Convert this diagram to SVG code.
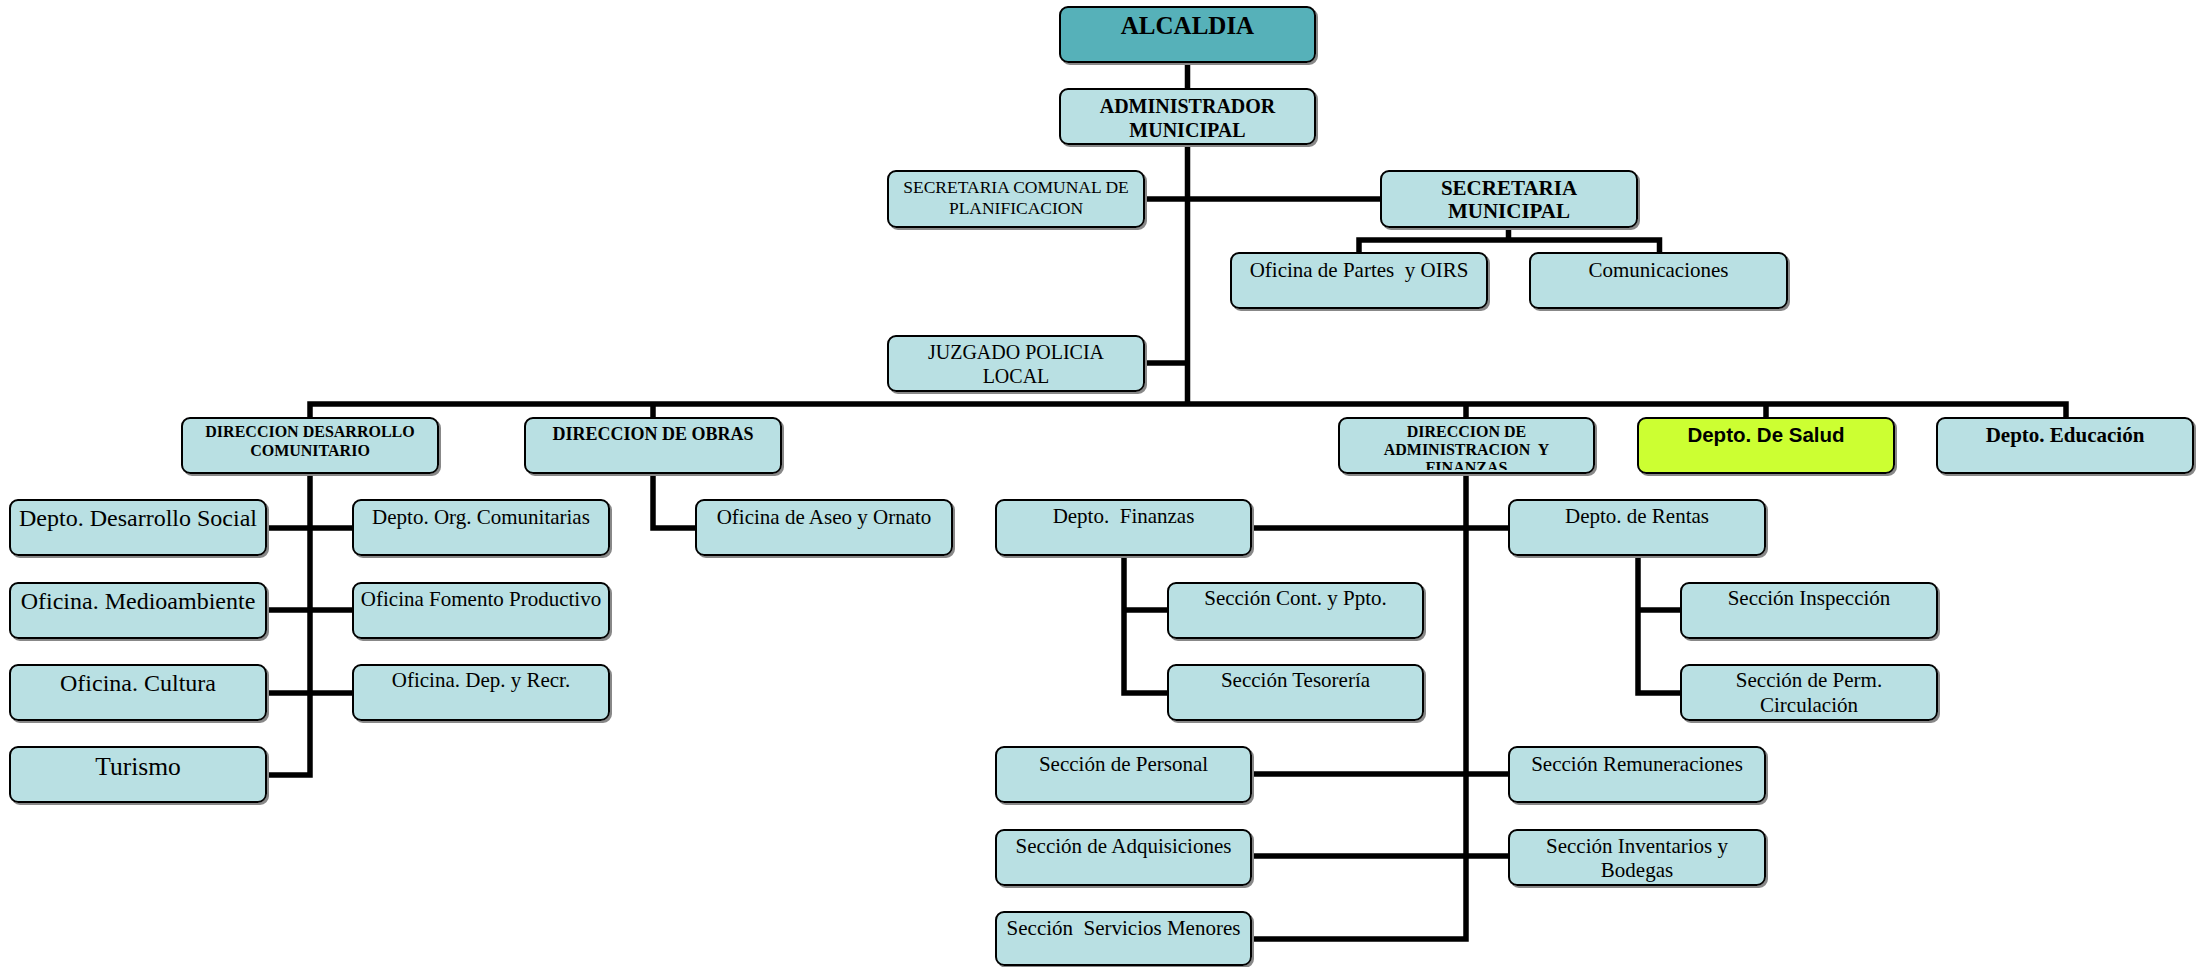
<svg xmlns="http://www.w3.org/2000/svg" width="2203" height="967" viewBox="0 0 2203 967">
<style>
.box{fill:#B9E0E3;stroke:#000;stroke-width:2;filter:url(#sh)}
.top{fill:#56B1B9}
.salud{fill:#CCFF33}
.c{fill:none;stroke:#000;stroke-width:5.5;stroke-linejoin:miter}
text{font-family:"Liberation Serif","Times New Roman",serif;fill:#000;text-anchor:middle}
.b{font-weight:bold}
.s21{font-size:21px}
.s24{font-size:24px}
.sans{font-family:"Liberation Sans",Arial,sans-serif}
</style>
<defs>
<filter id="sh" x="-5%" y="-5%" width="115%" height="130%">
<feOffset in="SourceAlpha" dx="2" dy="2" result="o"/>
<feFlood flood-color="#888"/>
<feComposite in2="o" operator="in" result="s"/>
<feMerge><feMergeNode in="s"/><feMergeNode in="SourceGraphic"/></feMerge>
</filter>
<clipPath id="cdaf"><rect x="1340" y="419" width="253" height="51"/></clipPath>
</defs>
<rect width="2203" height="967" fill="#fff"/>
<g id="connectors">
<path class="c" d="M1187.5 62 V404"/>
<path class="c" d="M1144 199 H1381"/>
<path class="c" d="M1508.5 227 V240 M1359 253 V240 H1659.5 V253"/>
<path class="c" d="M1144 363 H1187.5"/>
<path class="c" d="M310 418 V404 H2066 V418 M653 404 V418 M1466 404 V418 M1766 404 V418"/>
<path class="c" d="M310 473 V775 H266 M266 528 H353 M266 610 H353 M266 693 H353"/>
<path class="c" d="M653 473 V528 H696"/>
<path class="c" d="M1466 473 V939 H1251 M1251 528 H1509 M1251 774 H1509 M1251 856 H1509"/>
<path class="c" d="M1124 555 V693 H1168 M1124 610 H1168"/>
<path class="c" d="M1638 555 V693 H1681 M1638 610 H1681"/>
</g>
<g id="alcaldia"><rect class="box top" x="1060" y="7" width="255" height="55" rx="8"/><text class="b" x="1187.5" y="34" font-size="25">ALCALDIA</text></g>
<g id="administrador"><rect class="box" x="1060" y="89" width="255" height="55" rx="8"/><text class="b" x="1187.5" y="113" font-size="20">ADMINISTRADOR</text><text class="b" x="1187.5" y="137" font-size="20">MUNICIPAL</text></g>
<g id="secplan"><rect class="box" x="888" y="171" width="256" height="56" rx="8"/><text x="1016" y="193" font-size="17.5">SECRETARIA COMUNAL DE</text><text x="1016" y="214" font-size="17.5">PLANIFICACION</text></g>
<g id="secmun"><rect class="box" x="1381" y="171" width="256" height="56" rx="8"/><text class="b" x="1509" y="195" font-size="21">SECRETARIA</text><text class="b" x="1509" y="218" font-size="21">MUNICIPAL</text></g>
<g id="partes"><rect class="box" x="1231" y="253" width="256" height="55" rx="8"/><text class="s21" x="1359" y="277" xml:space="preserve">Oficina de Partes  y OIRS</text></g>
<g id="comunicaciones"><rect class="box" x="1530" y="253" width="257" height="55" rx="8"/><text class="s21" x="1658.5" y="277">Comunicaciones</text></g>
<g id="juzgado"><rect class="box" x="888" y="336" width="256" height="55" rx="8"/><text x="1016" y="359" font-size="20">JUZGADO POLICIA</text><text x="1016" y="383" font-size="20">LOCAL</text></g>
<g id="ddc"><rect class="box" x="182" y="418" width="256" height="55" rx="8"/><text class="b" x="310" y="437" font-size="16">DIRECCION DESARROLLO</text><text class="b" x="310" y="456" font-size="16">COMUNITARIO</text></g>
<g id="obras"><rect class="box" x="525" y="418" width="256" height="55" rx="8"/><text class="b" x="653" y="440" font-size="18">DIRECCION DE OBRAS</text></g>
<g id="daf"><rect class="box" x="1339" y="418" width="255" height="55" rx="8"/><g clip-path="url(#cdaf)"><text class="b" x="1466.5" y="437" font-size="16">DIRECCION DE</text><text class="b" x="1466.5" y="455" font-size="16" xml:space="preserve">ADMINISTRACION  Y</text><text class="b" x="1466.5" y="473" font-size="16">FINANZAS</text></g></g>
<g id="salud"><rect class="box salud" x="1638" y="418" width="256" height="55" rx="8"/><text class="b sans" x="1766" y="442" font-size="20.5">Depto. De Salud</text></g>
<g id="educacion"><rect class="box" x="1937" y="418" width="256" height="55" rx="8"/><text class="b s21" x="2065" y="442">Depto. Educación</text></g>
<g id="desarrollo-social"><rect class="box" x="10" y="500" width="256" height="55" rx="8"/><text class="s24" x="138" y="526">Depto. Desarrollo Social</text></g>
<g id="medioambiente"><rect class="box" x="10" y="583" width="256" height="55" rx="8"/><text class="s24" x="138" y="609">Oficina. Medioambiente</text></g>
<g id="cultura"><rect class="box" x="10" y="665" width="256" height="55" rx="8"/><text class="s24" x="138" y="691">Oficina. Cultura</text></g>
<g id="turismo"><rect class="box" x="10" y="747" width="256" height="55" rx="8"/><text x="138" y="775" font-size="25.5">Turismo</text></g>
<g id="org-comunitarias"><rect class="box" x="353" y="500" width="256" height="55" rx="8"/><text class="s21" x="481" y="524">Depto. Org. Comunitarias</text></g>
<g id="fomento"><rect class="box" x="353" y="583" width="256" height="55" rx="8"/><text class="s21" x="481" y="606">Oficina Fomento Productivo</text></g>
<g id="dep-recr"><rect class="box" x="353" y="665" width="256" height="55" rx="8"/><text class="s21" x="481" y="687">Oficina. Dep. y Recr.</text></g>
<g id="aseo"><rect class="box" x="696" y="500" width="256" height="55" rx="8"/><text class="s21" x="824" y="524">Oficina de Aseo y Ornato</text></g>
<g id="finanzas"><rect class="box" x="996" y="500" width="255" height="55" rx="8"/><text class="s21" x="1123.5" y="523" xml:space="preserve">Depto.  Finanzas</text></g>
<g id="rentas"><rect class="box" x="1509" y="500" width="256" height="55" rx="8"/><text class="s21" x="1637" y="523">Depto. de Rentas</text></g>
<g id="cont-ppto"><rect class="box" x="1168" y="583" width="255" height="55" rx="8"/><text class="s21" x="1295.5" y="605">Sección Cont. y Ppto.</text></g>
<g id="tesoreria"><rect class="box" x="1168" y="665" width="255" height="55" rx="8"/><text class="s21" x="1295.5" y="687">Sección Tesorería</text></g>
<g id="inspeccion"><rect class="box" x="1681" y="583" width="256" height="55" rx="8"/><text class="s21" x="1809" y="605">Sección Inspección</text></g>
<g id="perm-circ"><rect class="box" x="1681" y="665" width="256" height="55" rx="8"/><text class="s21" x="1809" y="687">Sección de Perm.</text><text class="s21" x="1809" y="712">Circulación</text></g>
<g id="personal"><rect class="box" x="996" y="747" width="255" height="55" rx="8"/><text class="s21" x="1123.5" y="771">Sección de Personal</text></g>
<g id="remuneraciones"><rect class="box" x="1509" y="747" width="256" height="55" rx="8"/><text class="s21" x="1637" y="771">Sección Remuneraciones</text></g>
<g id="adquisiciones"><rect class="box" x="996" y="830" width="255" height="55" rx="8"/><text class="s21" x="1123.5" y="853">Sección de Adquisiciones</text></g>
<g id="inventarios"><rect class="box" x="1509" y="830" width="256" height="55" rx="8"/><text class="s21" x="1637" y="853">Sección Inventarios y</text><text class="s21" x="1637" y="877">Bodegas</text></g>
<g id="servicios-menores"><rect class="box" x="996" y="912" width="255" height="53" rx="8"/><text class="s21" x="1123.5" y="935" xml:space="preserve">Sección  Servicios Menores</text></g>
</svg>
